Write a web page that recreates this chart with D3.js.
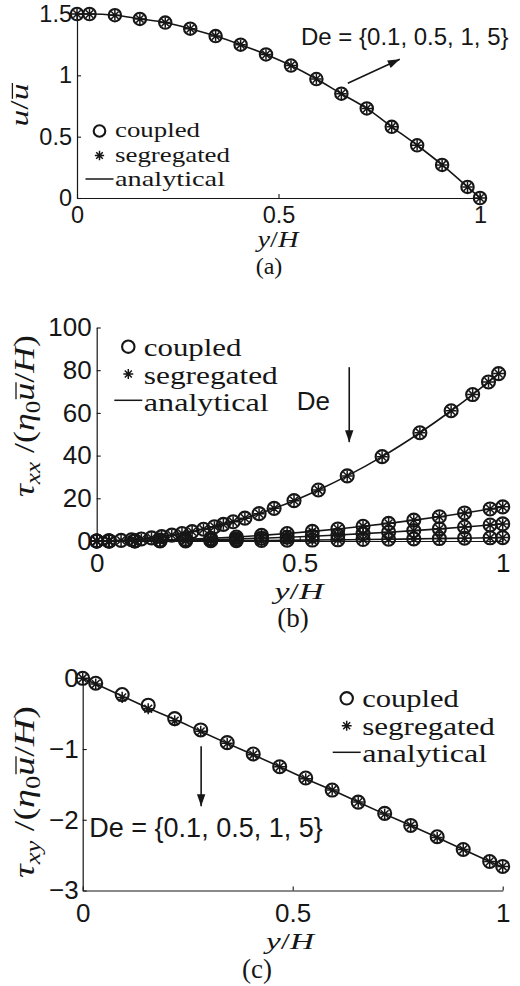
<!DOCTYPE html>
<html>
<head>
<meta charset="utf-8">
<script src="https://cdn.jsdelivr.net/npm/d3@7"></script>
<style>
html,body{margin:0;padding:0;background:#fff;}
svg{display:block;}
</style>
</head>
<body>
<svg id="chart" width="520" height="986"></svg>
<script>
// ---------------- DATA ----------------
const yGrid = [0, 0.031, 0.094, 0.156, 0.219, 0.281, 0.344, 0.406, 0.469, 0.531, 0.594, 0.656, 0.719, 0.781, 0.844, 0.906, 0.969, 1.0];

// (a) velocity u / ubar
const uCoupled    = [1.50, 1.50, 1.49, 1.46, 1.43, 1.38, 1.32, 1.25, 1.17, 1.08, 0.97, 0.85, 0.73, 0.58, 0.43, 0.27, 0.09, 0.00];
const uSegregated = [1.50, 1.50, 1.49, 1.46, 1.43, 1.38, 1.32, 1.25, 1.17, 1.08, 0.97, 0.85, 0.73, 0.58, 0.43, 0.27, 0.09, 0.00];
const uAnalytical = [1.50, 1.50, 1.49, 1.46, 1.43, 1.38, 1.32, 1.25, 1.17, 1.08, 0.97, 0.85, 0.73, 0.58, 0.43, 0.27, 0.09, 0.00];

// (b) tau_xx, De = 5 (own point positions)
const yDe5      = [0, 0.029, 0.06, 0.086, 0.11, 0.135, 0.16, 0.185, 0.21, 0.235, 0.263, 0.29, 0.312, 0.336, 0.365, 0.40, 0.437, 0.486, 0.546, 0.617, 0.703, 0.796, 0.873, 0.926, 0.965, 0.99];
const tauxxDe5  = [0, 0.07, 0.29, 0.6, 0.97, 1.46, 2.05, 2.74, 3.5, 4.4, 5.5, 6.7, 7.8, 9.0, 10.7, 12.8, 15.3, 18.9, 23.9, 30.5, 39.5, 50.7, 61.0, 68.6, 74.5, 78.4];
// (b) tau_xx, De = 1, 0.5, 0.1 (on yGrid)
const tauxxDe1  = [0, 0.02, 0.14, 0.39, 0.77, 1.27, 1.89, 2.64, 3.52, 4.52, 5.64, 6.89, 8.27, 9.77, 11.39, 13.14, 15.02, 16.0];
const tauxxDe05 = [0, 0.01, 0.07, 0.20, 0.38, 0.63, 0.95, 1.32, 1.76, 2.26, 2.82, 3.45, 4.13, 4.88, 5.70, 6.57, 7.51, 8.0];
const tauxxDe01 = [0, 0.00, 0.01, 0.04, 0.08, 0.13, 0.19, 0.26, 0.35, 0.45, 0.56, 0.69, 0.83, 0.98, 1.14, 1.31, 1.50, 1.6];

// (c) tau_xy
const tauxyCoupled    = [0, -0.07, -0.23, -0.38, -0.57, -0.73, -0.91, -1.07, -1.25, -1.41, -1.58, -1.75, -1.91, -2.08, -2.24, -2.42, -2.59, -2.66];
const tauxySegregated = [0, -0.08, -0.27, -0.43, -0.60, -0.75, -0.92, -1.08, -1.25, -1.42, -1.58, -1.75, -1.92, -2.08, -2.25, -2.42, -2.59, -2.66];
const tauxyAnalytical = [0, -0.08, -0.25, -0.42, -0.58, -0.75, -0.92, -1.08, -1.25, -1.42, -1.58, -1.75, -1.92, -2.08, -2.25, -2.42, -2.59, -2.67];

// ticks
const xTicks  = [0, 0.5, 1];
const xTickLabels = ["0", "0.5", "1"];
const aYTicks = [0, 0.5, 1, 1.5];
const aYTickLabels = ["0", "0.5", "1", "1.5"];
const bYTicks = [0, 20, 40, 60, 80, 100];
const bYTickLabels = ["0", "20", "40", "60", "80", "100"];
const cYTicks = [-3, -2, -1, 0];
const cYTickLabels = ["\u22123", "\u22122", "\u22121", "0"];

const legendLabels = ["coupled", "segregated", "analytical"];
const deLabel = "De = {0.1, 0.5, 1, 5}";

// ---------------- DRAW ----------------
const svg = d3.select("#chart");
const INK = "#161616";
const SANS = "'Liberation Sans', Arial, sans-serif";
const SERIF = "'Liberation Serif', 'Times New Roman', serif";

function circleMarker(g, x, y, r) {
  g.append("circle").attr("cx", x).attr("cy", y).attr("r", r)
    .attr("fill", "none").attr("stroke", INK).attr("stroke-width", 2.1);
}
function starMarker(g, x, y, r) {
  const d = r * 0.7071;
  const p = `M${x - r},${y}L${x + r},${y}M${x},${y - r}L${x},${y + r}` +
            `M${x - d},${y - d}L${x + d},${y + d}M${x - d},${y + d}L${x + d},${y - d}`;
  g.append("path").attr("d", p).attr("stroke", INK).attr("stroke-width", 1.5).attr("fill", "none");
}

function axes(g, x, y, o) {
  const xa = d3.axisBottom(x).tickValues(xTicks).tickFormat((d, i) => xTickLabels[i])
    .tickSizeInner(-4).tickSizeOuter(0).tickPadding(o.xPad);
  const ya = d3.axisLeft(y).tickValues(o.yTicks).tickFormat((d, i) => o.yLabels[i])
    .tickSizeInner(-4).tickSizeOuter(0).tickPadding(o.yPad);
  const gx = g.append("g").attr("transform", `translate(0,${y.range()[0]})`).call(xa);
  const gy = g.append("g").attr("transform", `translate(${x.range()[0]},0)`).call(ya);
  [gx, gy].forEach(a => {
    a.select(".domain").attr("stroke", INK).attr("stroke-width", 1.2);
    a.selectAll(".tick line").attr("stroke", INK).attr("stroke-width", 1.1);
    a.selectAll(".tick text").attr("fill", INK).style("font-family", SANS).style("font-size", o.tickFs + "px");
  });
}

function legend(g, x0, y0, dy, fs, r, base, widths) {
  const gl = g.append("g");
  circleMarker(gl, x0, y0, r);
  starMarker(gl, x0, y0 + dy, r * 0.8);
  gl.append("line").attr("x1", x0 - 14).attr("x2", x0 + 14).attr("y1", y0 + 2 * dy - 1).attr("y2", y0 + 2 * dy - 1)
    .attr("stroke", INK).attr("stroke-width", 1.5);
  legendLabels.forEach((t, i) => {
    gl.append("text").attr("x", x0 + 15.5).attr("y", y0 + i * dy + base)
      .attr("textLength", widths[i]).attr("lengthAdjust", "spacingAndGlyphs")
      .style("font-family", SERIF).style("font-size", fs + "px").attr("fill", INK).text(t);
  });
}

function arrow(g, x1, y1, x2, y2) {
  g.append("line").attr("x1", x1).attr("y1", y1).attr("x2", x2).attr("y2", y2)
    .attr("stroke", INK).attr("stroke-width", 1.6);
  const ang = Math.atan2(y2 - y1, x2 - x1), L = 12, Wd = 4.2;
  const bx = x2 - L * Math.cos(ang), by = y2 - L * Math.sin(ang);
  const px = -Math.sin(ang) * Wd, py = Math.cos(ang) * Wd;
  g.append("path").attr("d", `M${x2},${y2}L${bx + px},${by + py}L${bx - px},${by - py}Z`).attr("fill", INK);
}

function series(g, x, y, xs, vals, kind, r) {
  if (kind === "line") {
    const line = d3.line().x((d, i) => x(xs[i])).y(d => y(d)).curve(d3.curveMonotoneX);
    g.append("path").attr("d", line(vals)).attr("fill", "none").attr("stroke", INK).attr("stroke-width", 1.6);
  } else {
    vals.forEach((v, i) => kind === "circle" ? circleMarker(g, x(xs[i]), y(v), r) : starMarker(g, x(xs[i]), y(v), r * 0.85));
  }
}

// math label: style "i" italic, "r" roman, "sub" roman subscript, "subi" italic subscript, "bar" italic with overline
function mathLabel(g, transform, fs, parts, len) {
  const grp = g.append("g").attr("transform", transform);
  const t = grp.append("text").attr("text-anchor", "middle")
    .style("font-family", SERIF).style("font-size", fs + "px").attr("fill", INK);
  if (len) t.attr("textLength", len).attr("lengthAdjust", "spacingAndGlyphs");
  let idx = 0; const bars = [];
  parts.forEach(([s, st]) => {
    const ts = t.append("tspan").text(s);
    if (st === "i" || st === "bar" || st === "subi") ts.style("font-style", "italic");
    if (st === "sub" || st === "subi") ts.attr("baseline-shift", "-30%").style("font-size", (fs * 0.7) + "px");
    if (st === "bar") bars.push(idx);
    idx += s.length;
  });
  bars.forEach(k => {
    const e = t.node().getExtentOfChar(k);
    grp.append("line").attr("x1", e.x + 1.5).attr("x2", e.x + e.width + 0.5)
      .attr("y1", -fs * 0.6).attr("y2", -fs * 0.6).attr("stroke", INK).attr("stroke-width", 1.3);
  });
  return grp;
}

// ---- Panel (a)
{
  const g = svg.append("g");
  const x = d3.scaleLinear().domain([0, 1]).range([77, 480]);
  const y = d3.scaleLinear().domain([0, 1.5]).range([198, 14]);
  axes(g, x, y, {yTicks: aYTicks, yLabels: aYTickLabels, xPad: 8.8, yPad: 5, tickFs: 23.5});
  series(g, x, y, yGrid, uAnalytical, "line");
  series(g, x, y, yGrid, uCoupled, "circle", 6.2);
  series(g, x, y, yGrid, uSegregated, "star", 6.2);
  legend(g, 99.5, 131, 24.5, 22, 5.8, 6.4, [85, 115, 110]);
  g.append("text").attr("x", 301).attr("y", 45).style("font-family", SANS).style("font-size", "24px").attr("fill", INK).text(deLabel);
  arrow(g, x(0.672), y(0.935), x(0.801), y(1.131));
  mathLabel(g, "translate(28,105) rotate(-90)", 26, [["u", "i"], ["/", "r"], ["u", "bar"]], 43);
  mathLabel(g, "translate(278,247)", 23, [["y", "i"], ["/", "r"], ["H", "i"]], 41);
  g.append("text").attr("x", 269).attr("y", 274).attr("text-anchor", "middle")
    .style("font-family", SERIF).style("font-size", "24px").attr("fill", INK).text("(a)");
}

// ---- Panel (b)
{
  const g = svg.append("g");
  const x = d3.scaleLinear().domain([0, 1]).range([96.7, 502.7]);
  const y = d3.scaleLinear().domain([0, 100]).range([541, 327.5]);
  axes(g, x, y, {yTicks: bYTicks, yLabels: bYTickLabels, xPad: 12.5, yPad: 5, tickFs: 26});
  [tauxxDe01, tauxxDe05, tauxxDe1].forEach(v => series(g, x, y, yGrid, v, "line"));
  series(g, x, y, yDe5, tauxxDe5, "line");
  [tauxxDe01, tauxxDe05, tauxxDe1].forEach(v => { series(g, x, y, yGrid, v, "circle", 6.5); series(g, x, y, yGrid, v, "star", 6.5); });
  series(g, x, y, yDe5, tauxxDe5, "circle", 6.5);
  series(g, x, y, yDe5, tauxxDe5, "star", 6.5);
  legend(g, 128.3, 346.7, 27.3, 24.5, 6.2, 9.5, [97.7, 134, 125]);
  g.append("text").attr("x", 296.7).attr("y", 410).style("font-family", SANS).style("font-size", "26px").attr("fill", INK).text("De");
  arrow(g, x(0.622), y(81.4), x(0.622), y(46.3));
  mathLabel(g, "translate(34,416) rotate(-90)", 30,
    [["τ", "i"], ["xx", "subi"], [" /(", "r"], ["η", "i"], ["0", "sub"], ["u", "bar"], ["/", "r"], ["H", "i"], [")", "r"]], 162);
  mathLabel(g, "translate(299,599)", 23, [["y", "i"], ["/", "r"], ["H", "i"]], 49);
  g.append("text").attr("x", 293).attr("y", 627).attr("text-anchor", "middle")
    .style("font-family", SERIF).style("font-size", "27px").attr("fill", INK).text("(b)");
}

// ---- Panel (c)
{
  const g = svg.append("g");
  const x = d3.scaleLinear().domain([0, 1]).range([82.7, 502.7]);
  const y = d3.scaleLinear().domain([-3, 0]).range([890.5, 678.3]);
  axes(g, x, y, {yTicks: cYTicks, yLabels: cYTickLabels, xPad: 12.7, yPad: 4, tickFs: 26});
  series(g, x, y, yGrid, tauxyAnalytical, "line");
  series(g, x, y, yGrid, tauxyCoupled, "circle", 6.5);
  series(g, x, y, yGrid, tauxySegregated, "star", 6.5);
  legend(g, 346.7, 698.3, 27.5, 24.5, 6.2, 8.8, [96.7, 132.7, 125]);
  g.append("text").attr("x", 89.3).attr("y", 836.7).style("font-family", SANS).style("font-size", "27px").attr("fill", INK).text(deLabel);
  arrow(g, x(0.282), y(-0.96), x(0.282), y(-1.81));
  mathLabel(g, "translate(34,792) rotate(-90)", 30,
    [["τ", "i"], ["xy", "subi"], [" /(", "r"], ["η", "i"], ["0", "sub"], ["u", "bar"], ["/", "r"], ["H", "i"], [")", "r"]], 172);
  mathLabel(g, "translate(290,949)", 23, [["y", "i"], ["/", "r"], ["H", "i"]], 48);
  g.append("text").attr("x", 257).attr("y", 978).attr("text-anchor", "middle")
    .style("font-family", SERIF).style("font-size", "27px").attr("fill", INK).text("(c)");
}
</script>
</body>
</html>
